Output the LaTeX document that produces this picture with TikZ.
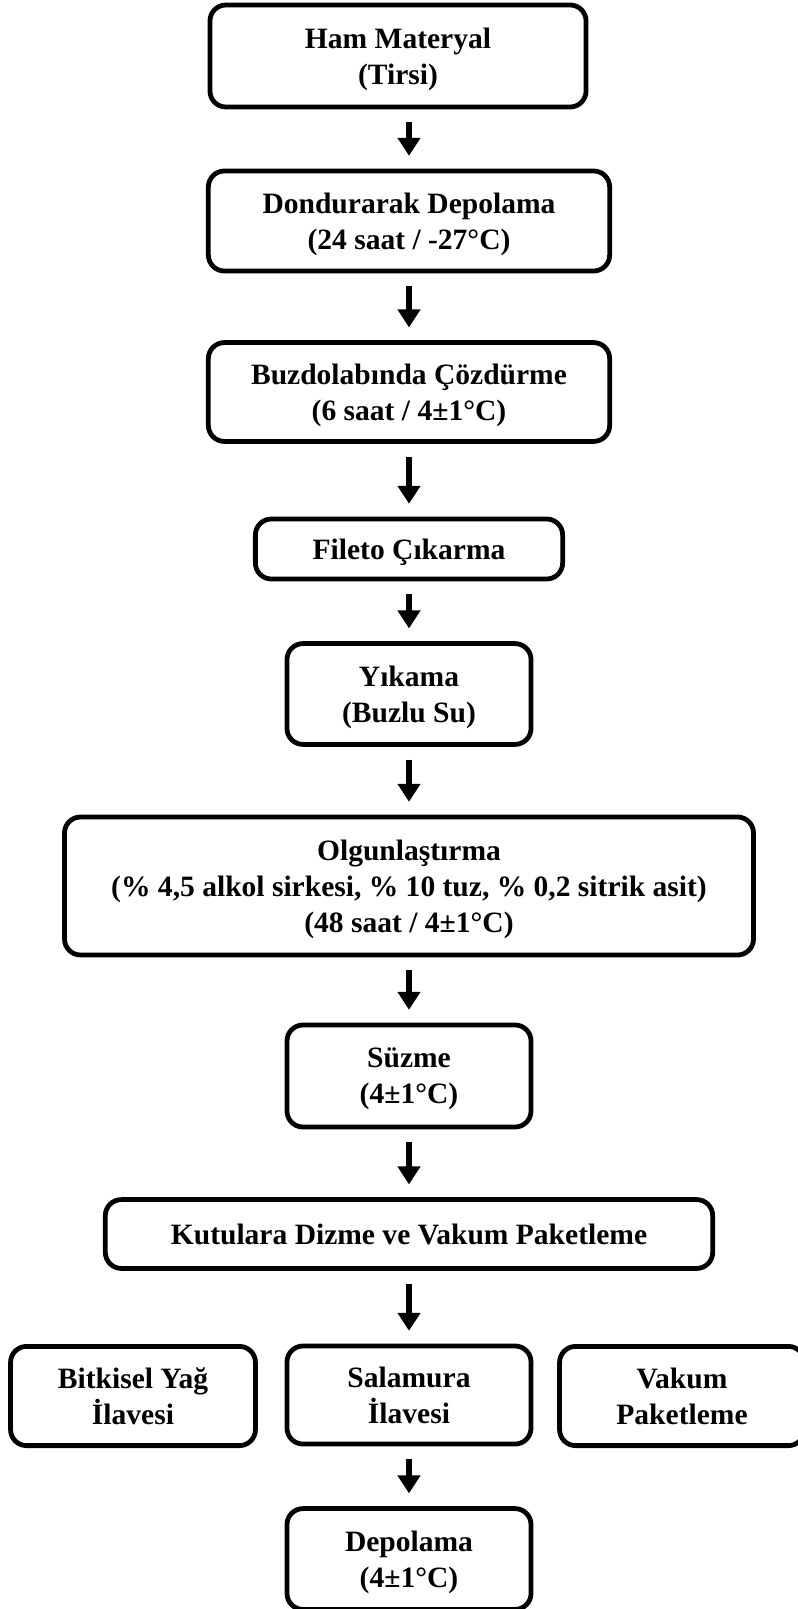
\documentclass[tikz,border=0pt]{standalone}
\usepackage{fontspec}
\setmainfont{Liberation Serif}
\usetikzlibrary{arrows.meta}
\tikzset{
  stepbox/.style={draw, line width=3.4pt, rounded corners=0.4cm, align=center,
    font=\bfseries\fontsize{21}{25.5}\selectfont, inner sep=0pt, text depth=0pt},
  flow/.style={line width=3.6pt, -{Triangle[width=0.55cm, length=0.45cm]},
    shorten <=0.32cm, shorten >=0.32cm}
}
\begin{document}
\begin{tikzpicture}[x=0.025cm, y=-0.025cm]
      \useasboundingbox (0,0) rectangle (797,1609);
      \draw
        (398,56) node[stepbox, minimum width=9.4cm, minimum height=2.55cm] (ham) {Ham Materyal\\(Tirsi)}
        (409,221) node[stepbox, minimum width=10.03cm, minimum height=2.5cm] (dond) {Dondurarak Depolama\\(24 saat / -27°C)}
        (409,392) node[stepbox, minimum width=10.03cm, minimum height=2.47cm] (buz) {Buzdolabında Çözdürme\\(6 saat / 4±1°C)}
        (409,549) node[stepbox, minimum width=7.68cm, minimum height=1.5cm] (fil) {Fileto Çıkarma}
        (409,694) node[stepbox, minimum width=6.1cm, minimum height=2.52cm] (yik) {Yıkama\\(Buzlu Su)}
        (409,886) node[stepbox, minimum width=17.22cm, minimum height=3.45cm] (olg) {Olgunlaştırma\\(\% 4,5 alkol sirkesi, \% 10 tuz, \% 0,2 sitrik asit)\\(48 saat / 4±1°C)}
        (409,1076) node[stepbox, minimum width=6.1cm, minimum height=2.55cm] (suz) {Süzme\\(4±1°C)}
        (409,1234) node[stepbox, minimum width=15.18cm, minimum height=1.72cm] (kut) {Kutulara Dizme ve Vakum Paketleme}
        (133,1396) node[stepbox, minimum width=6.12cm, minimum height=2.48cm] (yag) {Bitkisel Yağ\\İlavesi}
        (409,1395) node[stepbox, minimum width=6.1cm, minimum height=2.45cm] (sal) {Salamura\\İlavesi}
        (682,1396) node[stepbox, minimum width=6.12cm, minimum height=2.48cm] (vak) {Vakum\\Paketleme}
        (409,1559) node[stepbox, minimum width=6.1cm, minimum height=2.52cm] (dep) {Depolama\\(4±1°C)};
      \begin{scope}[flow]
        \draw (ham.south -| dond) to (dond);
        \draw (dond) to (buz);
        \draw (buz) to (fil);
        \draw (fil) to (yik);
        \draw (yik) to (olg);
        \draw (olg) to (suz);
        \draw (suz) to (kut);
        \draw (kut) to (sal);
        \draw (sal) to (dep);
      \end{scope}
    \end{tikzpicture}
\end{document}
